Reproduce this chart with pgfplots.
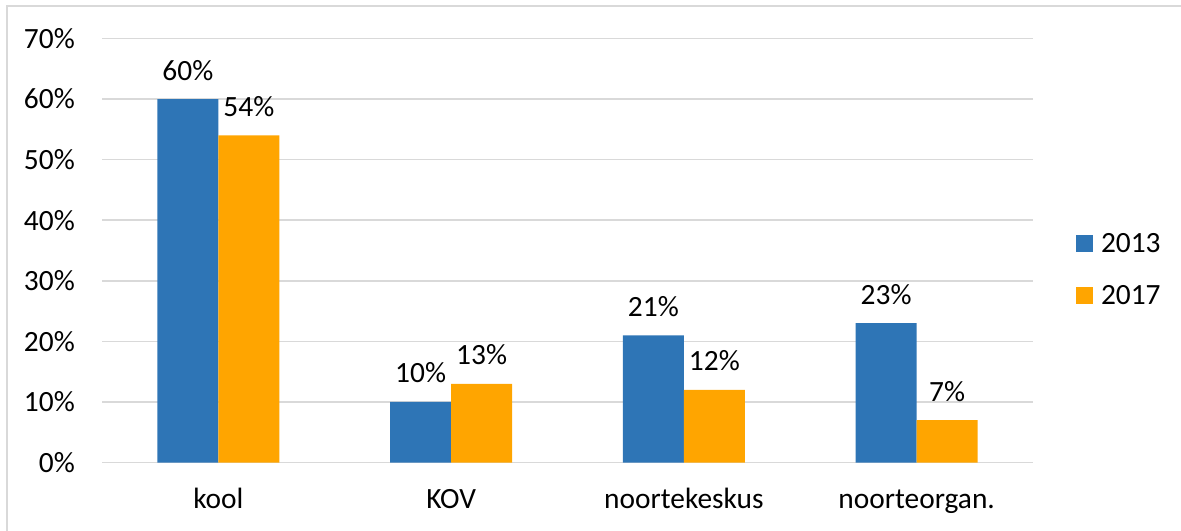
\documentclass[border=0pt]{standalone}
\usepackage{fontspec}
\setmainfont{Carlito}
\usepackage{pgfplots}
\pgfplotsset{compat=1.18}
\definecolor{cblue}{HTML}{2E75B6}
\definecolor{corange}{HTML}{FFA500}
\definecolor{cgrid}{HTML}{D9D9D9}
\begin{document}
\begin{tikzpicture}
\useasboundingbox (0,0) rectangle (1181bp,531bp);
\draw[cgrid, line width=2bp] (7bp,0) -- (7bp,525bp) -- (1181bp,525bp);
\begin{axis}[
  at={(102bp,68.5bp)}, anchor=south west,
  scale only axis, width=931bp, height=424bp,
  xmin=-0.5, xmax=3.5, ymin=0, ymax=70,
  clip=false,
  /pgf/number format/assume math mode=true,
  ybar=0pt, bar width=61bp,
  axis line style={draw=none},
  major tick length=0pt,
  ymajorgrids, major grid style={cgrid, line width=1.5bp},
  xtick={0,1,2,3},
  xticklabels={kool,KOV,noortekeskus,noorteorgan.},
  ytick={0,10,20,30,40,50,60,70},
  yticklabels={0\%,10\%,20\%,30\%,40\%,50\%,60\%,70\%},
  font=\fontsize{29.5}{34}\selectfont,
  xticklabel style={anchor=base, inner sep=0pt, yshift=-46bp},
  yticklabel style={anchor=east, inner sep=0pt, xshift=-27bp},
  nodes near coords={\pgfmathprintnumber{\pgfplotspointmeta}\%},
  every node near coord/.append style={anchor=base, inner sep=0pt, yshift=19bp, font=\fontsize{29.5}{34}\selectfont, text=black},
  legend style={at={(1.0462,0.5385)}, anchor=north west, draw=none, inner sep=0pt, outer sep=0pt,
    font=\fontsize{29.5}{34}\selectfont,
    nodes={inner sep=0pt, text height=18bp, text depth=0pt},
    row sep=34bp, column sep=8bp},
  legend cell align=left,
  legend image code/.code={\fill[#1] (0bp,-9bp) rectangle (17bp,8bp);},
]
\addplot[fill=cblue, draw=none] coordinates {(0,60) (1,10) (2,21) (3,23)};
\addplot[fill=corange, draw=none] coordinates {(0,54) (1,13) (2,12) (3,7)};
\legend{2013,2017}
\end{axis}
\end{tikzpicture}
\end{document}
